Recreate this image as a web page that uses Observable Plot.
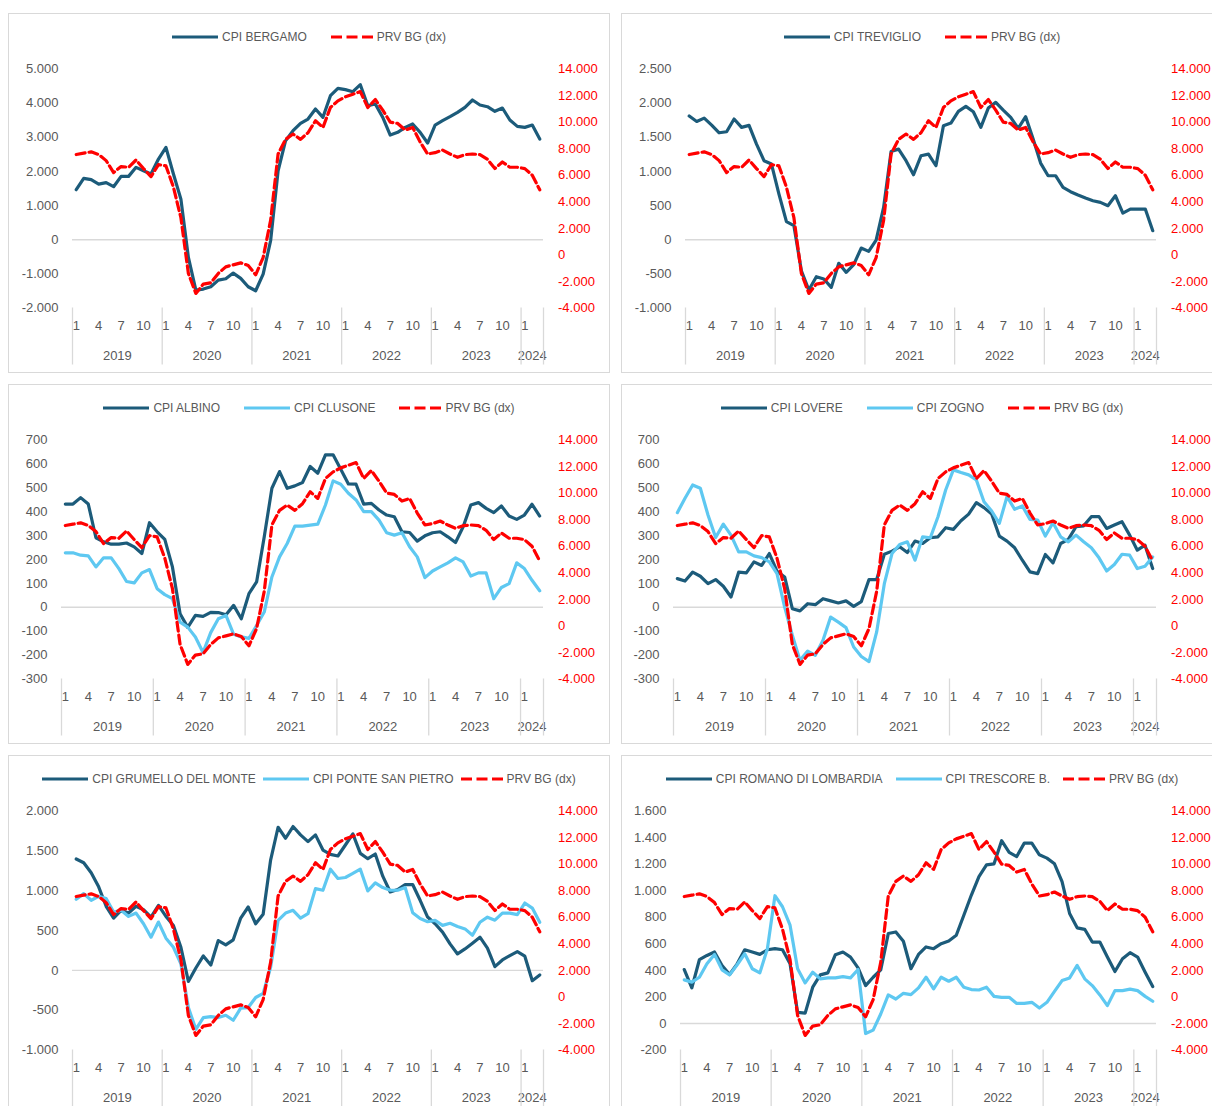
<!DOCTYPE html>
<html>
<head>
<meta charset="utf-8">
<script src="https://cdn.jsdelivr.net/npm/d3@7"></script>
<script src="https://cdn.jsdelivr.net/npm/@observablehq/plot@0.6"></script>
<style>
  html, body { margin: 0; padding: 0; background: #fff; }
  #wrap { position: relative; width: 1212px; height: 1106px; overflow: hidden; background: #fff;
          font-family: 'Liberation Sans', Arial, sans-serif; }
  .panel { position: absolute; width: 602px; height: 360px; }
  .frame { position: absolute; left: 0; top: 0; width: 602px; height: 360px; box-sizing: border-box;
           border: 1.5px solid #d9d9d9; pointer-events: none; }
  .legend { position: absolute; left: 0; top: 15px; width: 602px; height: 18px; display: flex;
            justify-content: center; align-items: center; font-size: 12px; color: #595959; white-space: nowrap; }
  .item { display: flex; align-items: center; }
  .item svg { margin-right: 4px; }
  .panel > svg.plot { position: absolute; left: 0; top: 0; }
</style>
</head>
<body>
<div id="wrap"></div>
<script>
// ---- time axis: monthly, Jan 2019 .. Mar 2024 (63 months)
const years = [2019, 2020, 2021, 2022, 2023, 2024];
const monthLabels = ["1", "4", "7", "10"];

// ---- series
const prvBG = [7560,7660,7760,7560,7100,6200,6650,6600,7150,6500,5900,6800,
  6700,5100,2800,-1400,-2900,-2200,-2100,-1400,-900,-750,-600,-800,
  -1500,-200,2600,7600,8700,9100,8700,9200,10100,9600,11100,11600,
  11900,12100,12300,11100,11700,10900,10000,9900,9400,9600,8500,7600,
  7700,7900,7600,7350,7550,7600,7550,7200,6500,7000,6600,6600,
  6500,6000,4900];

const cpiBergamo = [1465,1797,1758,1630,1670,1553,1855,1855,2120,2020,1924,2363,
  2705,1924,1190,-518,-1475,-1445,-1377,-1182,-1143,-977,-1133,-1377,
  -1494,-1006,-30,2020,2900,3193,3408,3535,3828,3584,4219,4434,
  4395,4336,4541,3926,3975,3584,3066,3145,3291,3389,3145,2832,
  3359,3486,3603,3730,3877,4092,3945,3896,3760,3857,3506,3320,
  3291,3359,2950];

const cpiTreviglio = [1811,1732,1781,1679,1566,1581,1767,1645,1674,1400,1157,1108,
  669,264,205,-454,-737,-542,-576,-698,-346,-478,-366,-122,
  -171,-5,473,1293,1327,1157,952,1230,1254,1083,1669,1708,
  1879,1952,1874,1645,1928,2011,1898,1791,1630,1801,1474,1122,
  937,937,766,703,654,610,571,547,498,644,390,449,
  449,449,132];

const cpiAlbino = [432,432,459,432,291,274,264,264,269,253,225,354,
  316,284,169,-27,-84,-34,-38,-21,-22,-31,8,-48,
  57,106,295,498,568,498,508,522,589,561,638,638,
  578,516,515,432,435,407,386,379,316,313,277,299,
  312,316,295,271,337,428,438,414,396,424,382,368,
  386,431,382];

const cpiClusone = [228,228,218,215,169,207,207,162,108,102,144,158,
  78,53,36,-62,-83,-124,-189,-106,-48,-34,-113,-124,
  -130,-76,-20,127,211,267,340,340,344,348,428,529,
  515,477,449,400,400,365,312,302,312,253,211,124,
  152,169,186,207,190,131,144,144,36,83,99,186,
  162,113,69];

const cpiLovere = [120,110,147,130,99,116,88,43,147,144,190,175,
  225,151,127,-6,-15,15,11,36,27,18,27,4,
  24,116,116,222,235,253,229,277,267,291,295,333,
  326,362,390,438,417,390,298,277,249,197,148,141,
  221,186,267,284,337,341,379,379,330,344,358,302,
  239,260,162];

const cpiZogno = [396,456,512,498,386,292,348,302,232,232,215,208,
  190,141,1,-117,-222,-183,-201,-138,-41,-62,-85,-166,
  -206,-227,-103,99,225,263,274,197,295,291,379,491,
  575,564,554,533,442,403,351,463,410,424,368,365,
  298,354,295,274,302,274,249,207,152,179,222,218,
  162,172,211];

const cpiGrumello = [1397,1350,1224,1048,804,656,753,719,804,761,669,816,
  677,564,290,-139,29,181,67,374,320,383,656,795,
  585,703,1384,1796,1658,1805,1700,1615,1700,1510,1456,1435,
  1573,1712,1468,1401,1460,1182,984,1014,1077,1077,879,669,
  585,480,332,206,269,341,416,278,46,130,185,235,
  177,-130,-59];

const cpiPonteSanPietro = [892,963,879,930,900,732,753,677,719,585,416,606,
  404,290,80,-467,-740,-593,-581,-593,-564,-627,-475,-467,
  -341,-290,38,627,719,753,656,711,1026,1005,1270,1153,
  1165,1216,1270,997,1098,1039,1005,1005,1039,724,650,610,
  627,564,590,551,520,440,604,667,630,718,718,700,
  845,781,604];

const cpiRomano = [406,268,480,512,538,437,369,449,555,538,520,555,
  563,555,449,83,78,273,366,381,518,538,500,419,
  285,348,404,677,689,619,412,520,576,563,601,621,
  664,815,967,1106,1194,1202,1376,1288,1257,1358,1358,1270,
  1245,1202,1068,828,720,709,613,613,500,391,487,533,
  500,386,278];

const cpiTrescore = [328,311,348,449,520,404,366,442,525,412,381,563,
  962,879,740,412,305,386,336,343,343,353,343,406,
  -76,-50,71,215,184,227,217,268,348,260,348,318,
  348,273,255,252,273,204,197,197,151,151,159,116,
  159,242,323,343,437,336,285,215,134,247,247,258,
  247,204,167];

// ---- axis tick values
const rightTicks = d3.range(-4000, 14001, 2000);
const rightDomain = [-4000, 14000];

const DARK = "#1c5b7a", LIGHT = "#5ec8f1", RED = "#ff0000", GRAY = "#595959", LINE = "#d9d9d9";

const panels = [
  {left: 8,   top: 13,  ml: 64, domain: [-2000, 5000], step: 1000, gap: 24,
   series: [{name: "CPI BERGAMO", data: cpiBergamo, color: DARK}]},
  {left: 621, top: 13,  ml: 64, domain: [-1000, 2500], step: 500, gap: 24,
   series: [{name: "CPI TREVIGLIO", data: cpiTreviglio, color: DARK}]},
  {left: 8,   top: 384, ml: 53, domain: [-300, 700], step: 100, gap: 24,
   series: [{name: "CPI ALBINO", data: cpiAlbino, color: DARK}, {name: "CPI CLUSONE", data: cpiClusone, color: LIGHT}]},
  {left: 621, top: 384, ml: 52, domain: [-300, 700], step: 100, gap: 24,
   series: [{name: "CPI LOVERE", data: cpiLovere, color: DARK}, {name: "CPI ZOGNO", data: cpiZogno, color: LIGHT}]},
  {left: 8,   top: 755, ml: 64, domain: [-1000, 2000], step: 500, gap: 7,
   series: [{name: "CPI GRUMELLO DEL MONTE", data: cpiGrumello, color: DARK}, {name: "CPI PONTE SAN PIETRO", data: cpiPonteSanPietro, color: LIGHT}]},
  {left: 621, top: 755, ml: 59, domain: [-200, 1600], step: 200, gap: 13,
   series: [{name: "CPI ROMANO DI LOMBARDIA", data: cpiRomano, color: DARK}, {name: "CPI TRESCORE B.", data: cpiTrescore, color: LIGHT}]}
];

const it = d3.formatLocale({decimal: ",", thousands: ".", grouping: [3], currency: ["", "€"], minus: "-"});
const fmt = it.format(",d");

const nMonths = prvBG.length;
const monthTicks = d3.range(nMonths).filter(i => monthLabels.includes(String(i % 12 + 1)));
const boundaries = years.map((y, k) => k * 12 - 0.5).concat([nMonths - 0.5]);
const yearCenters = years.map((y, k) => (k * 12 - 0.5 + Math.min(k * 12 + 11.5, nMonths - 0.5)) / 2);

const wrap = document.getElementById("wrap");

function legendItem(name, color, dashed) {
  const d = document.createElement("div");
  d.className = "item";
  const w = dashed ? 42 : 46;
  d.innerHTML = `<svg width="${w}" height="6"><line x1="0" x2="${w}" y1="3" y2="3" stroke="${color}" stroke-width="3.2" ${dashed ? 'stroke-dasharray="11,4.5"' : ''}/></svg><span>${name}</span>`;
  return d;
}

for (const p of panels) {
  const div = document.createElement("div");
  div.className = "panel";
  div.style.left = p.left + "px";
  div.style.top = p.top + "px";

  const [y0, y1] = p.domain;
  const toLeft = r => y0 + (r - rightDomain[0]) * (y1 - y0) / (rightDomain[1] - rightDomain[0]);
  const toRight = v => rightDomain[0] + (v - y0) * (rightDomain[1] - rightDomain[0]) / (y1 - y0);
  const leftTicks = d3.range(y0, y1 + p.step / 2, p.step);

  const marks = [
    Plot.ruleY([0], {stroke: LINE, strokeWidth: 1.4}),
    Plot.axisY(leftTicks, {anchor: "left", tickSize: 0, tickPadding: 14, tickFormat: fmt, color: GRAY, fontSize: 13, label: null}),
    Plot.axisY(rightTicks.map(toLeft), {anchor: "right", tickSize: 0, tickPadding: 14.5, textAnchor: "start",
      tickFormat: v => fmt(Math.round(toRight(v) / 100) * 100), color: RED, fontSize: 13, label: null}),
    Plot.axisX(monthTicks, {anchor: "bottom", tickSize: 0, tickPadding: 13, tickFormat: i => String(i % 12 + 1), color: GRAY, fontSize: 13, label: null}),
    Plot.axisX(yearCenters, {anchor: "bottom", tickSize: 0, tickPadding: 43, tickFormat: c => String(years[0] + Math.floor((c + 0.5) / 12)), color: GRAY, fontSize: 13, label: null}),
    Plot.axisX(boundaries, {anchor: "bottom", tickSize: 57, tickFormat: () => "", stroke: LINE, strokeWidth: 1.3, label: null})
  ];
  for (const s of p.series) {
    marks.push(Plot.line(s.data, {x: (d, i) => i, y: d => d, stroke: s.color, strokeWidth: 3.2, strokeLinejoin: "round", strokeLinecap: "round"}));
  }
  marks.push(Plot.line(prvBG, {x: (d, i) => i, y: d => toLeft(d), stroke: RED, strokeWidth: 3.2, strokeDasharray: "9,4", strokeLinejoin: "round"}));

  const chart = Plot.plot({
    width: 602, height: 360,
    marginTop: 55.5, marginBottom: 65.5, marginLeft: p.ml, marginRight: 67,
    style: {fontFamily: "'Liberation Sans', Arial, sans-serif", fontSize: "13px", background: "transparent", overflow: "visible"},
    x: {type: "linear", domain: [-0.5, nMonths - 0.5]},
    y: {type: "linear", domain: p.domain},
    marks
  });
  chart.classList.add("plot");
  div.appendChild(chart);

  const leg = document.createElement("div");
  leg.className = "legend";
  leg.style.gap = p.gap + "px";
  for (const s of p.series) leg.appendChild(legendItem(s.name, s.color, false));
  leg.appendChild(legendItem("PRV BG (dx)", RED, true));
  div.appendChild(leg);

  const fr = document.createElement("div");
  fr.className = "frame";
  div.appendChild(fr);

  wrap.appendChild(div);
}
</script>
</body>
</html>
